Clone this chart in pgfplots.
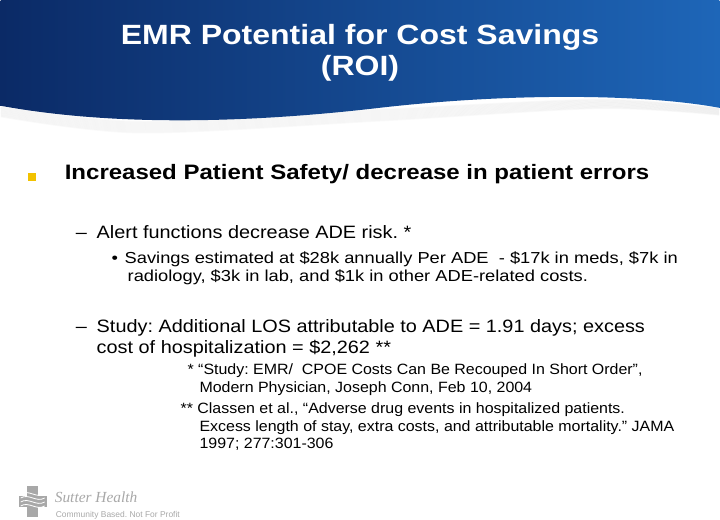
\documentclass[border=0pt]{standalone}
\usepackage{pgfplots}
\pgfplotsset{compat=1.18}
\usepackage{fontspec}
\setmainfont{Liberation Sans}
\newfontfamily\wide[FakeStretch=1.15]{Liberation Sans}
\newfontfamily\widb[FakeStretch=1.11]{Liberation Sans}
\newfontfamily\widf[FakeStretch=1.07]{Liberation Sans}
\newfontfamily\serifit{Liberation Serif}
\definecolor{navyL}{HTML}{0B2A66}
\definecolor{navyR}{HTML}{1E66B8}
\definecolor{bulletY}{HTML}{F2C200}
\definecolor{logoG}{HTML}{A8A8A8}
\frenchspacing
\begin{document}
\frenchspacing
\begin{tikzpicture}
\begin{axis}[
  width=720bp, height=540bp, scale only axis,
  xmin=0, xmax=720, ymin=0, ymax=540, y dir=reverse,
  hide axis, clip=false,
]
% shadow under the header wave
\pgfplotsinvokeforeach{1,2,3,4,5,6,7,8,9,10,11,12}{
  \draw[black, line width=1.5bp, opacity=0.025, smooth]
    plot coordinates {(axis cs:0,{106+#1*0.9}) (axis cs:140,{121+#1}) (axis cs:380,{109+#1}) (axis cs:600,{99+#1*0.8}) (axis cs:720,{108+#1*0.6})};
}
% header band
\shade[left color=navyL, right color=navyR]
  (axis cs:0,0) -- (axis cs:720,0) -- (axis cs:720,108)
  .. controls (axis cs:650,95) and (axis cs:520,92) .. (axis cs:380,108)
  .. controls (axis cs:260,122) and (axis cs:120,128) .. (axis cs:0,106) -- cycle;
% title
\node[font=\wide\bfseries\fontsize{28}{32}\selectfont, text=white, anchor=base] at (axis cs:360,45) {EMR Potential for Cost Savings};
\node[font=\wide\bfseries\fontsize{28}{32}\selectfont, text=white, anchor=base] at (axis cs:360,76) {(ROI)};
% main bullet
\addplot[only marks, mark=square*, mark size=3.2bp, color=bulletY, forget plot] coordinates {(31,177)};
\node[font=\wide\bfseries\fontsize{21}{24}\selectfont, anchor=base west, inner sep=0] at (axis cs:64,180) {Increased Patient Safety/ decrease in patient errors};
% level 2
\node[font=\widb\fontsize{18}{22}\selectfont, anchor=base west, inner sep=0] at (axis cs:75,239) {–};
\node[font=\widb\fontsize{18}{22}\selectfont, anchor=base west, inner sep=0] at (axis cs:96,239) {Alert functions decrease ADE risk. *};
% level 3
\node[font=\wide\fontsize{16}{20}\selectfont, anchor=base west, inner sep=0] at (axis cs:111,264) {•};
\node[font=\wide\fontsize{16}{20}\selectfont, anchor=base west, inner sep=0] at (axis cs:124,264) {Savings estimated at \$28k annually Per ADE \ - \$17k in meds, \$7k in};
\node[font=\wide\fontsize{16}{20}\selectfont, anchor=base west, inner sep=0] at (axis cs:127,282) {radiology, \$3k in lab, and \$1k in other ADE-related costs.};
% level 2 second
\node[font=\widb\fontsize{18}{22}\selectfont, anchor=base west, inner sep=0] at (axis cs:75,333) {–};
\node[font=\widb\fontsize{18}{22}\selectfont, anchor=base west, inner sep=0] at (axis cs:96,333) {Study: Additional LOS attributable to ADE = 1.91 days; excess};
\node[font=\widb\fontsize{18}{22}\selectfont, anchor=base west, inner sep=0] at (axis cs:96,354) {cost of hospitalization = \$2,262 **};
% footnotes
\node[font=\widf\fontsize{15}{17}\selectfont, anchor=base west, inner sep=0] at (axis cs:187,375) {* “Study: EMR/ \ CPOE Costs Can Be Recouped In Short Order”,};
\node[font=\widf\fontsize{15}{17}\selectfont, anchor=base west, inner sep=0] at (axis cs:199,393) {Modern Physician, Joseph Conn, Feb 10, 2004};
\node[font=\widf\fontsize{15}{17}\selectfont, anchor=base west, inner sep=0] at (axis cs:180,414) {** Classen et al., “Adverse drug events in hospitalized patients.};
\node[font=\widf\fontsize{15}{17}\selectfont, anchor=base west, inner sep=0] at (axis cs:199,432) {Excess length of stay, extra costs, and attributable mortality.” JAMA};
\node[font=\widf\fontsize{15}{17}\selectfont, anchor=base west, inner sep=0] at (axis cs:199,449) {1997; 277:301-306};
% logo
\fill[logoG] (axis cs:26,487) rectangle (axis cs:37,518);
\fill[logoG] (axis cs:18,497) rectangle (axis cs:46,508);
\pgfplotsinvokeforeach{0,4,8,12}{
  \draw[white, line width=0.8bp] (axis cs:20,{495+#1}) .. controls (axis cs:28,{490+#1}) and (axis cs:36,{500+#1}) .. (axis cs:44,{495+#1});
}
\node[font=\serifit\itshape\fontsize{15.5}{17}\selectfont, text=logoG, anchor=base west, inner sep=0] at (axis cs:54,504) {Sutter Health};
\node[font=\fontsize{8.5}{10}\selectfont, text=logoG, anchor=base west, inner sep=0] at (axis cs:55,519) {Community Based. Not For Profit};
\end{axis}
\end{tikzpicture}
\end{document}
